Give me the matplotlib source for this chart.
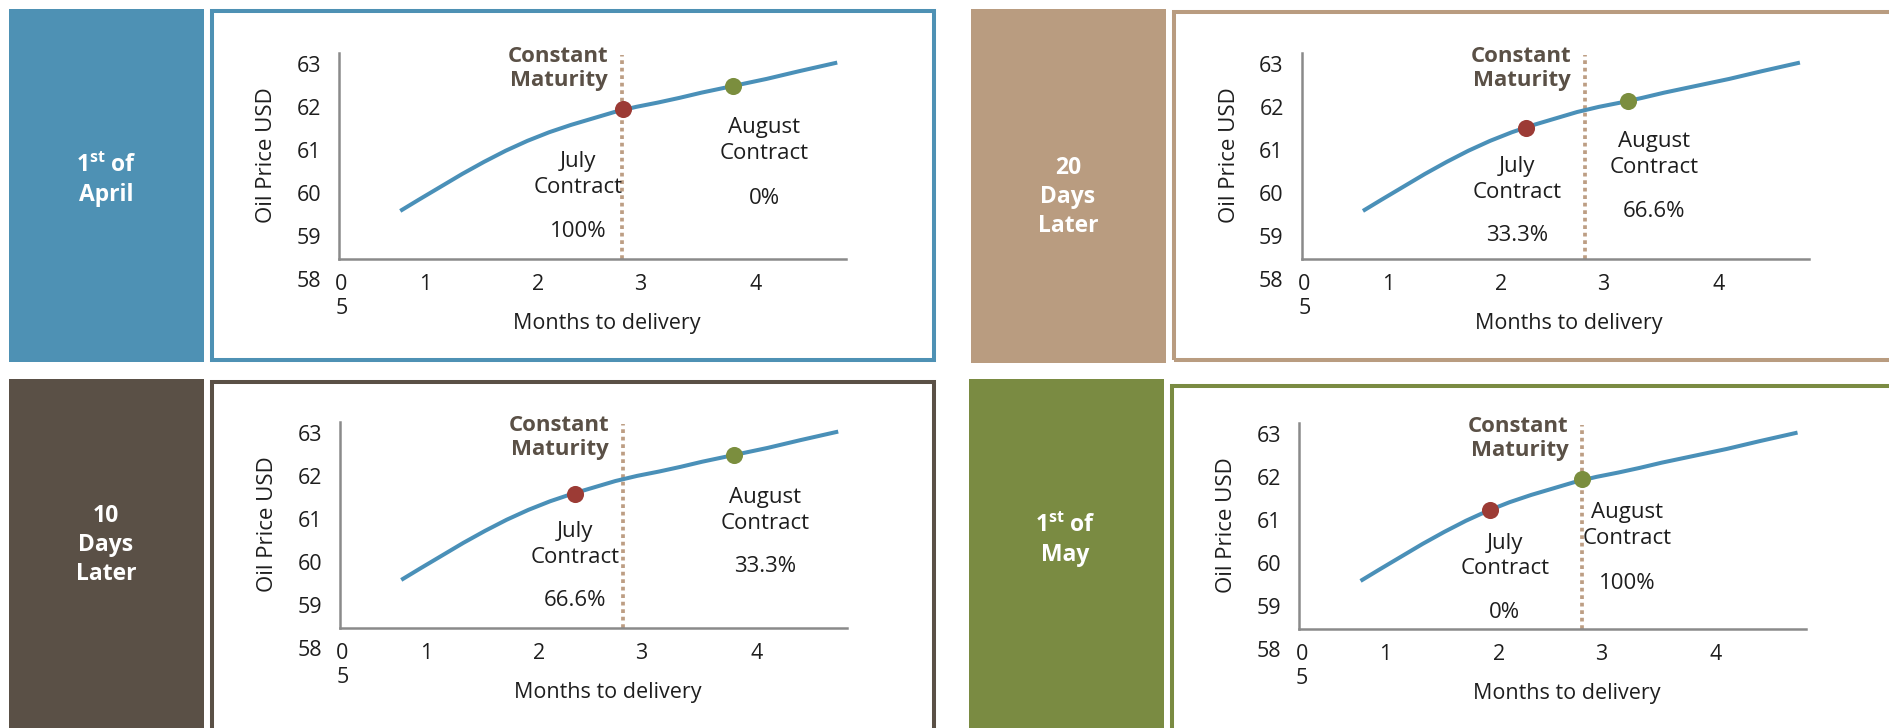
import matplotlib
matplotlib.use("Agg")
import matplotlib.pyplot as plt
from matplotlib.patches import Rectangle

plt.rcParams["font.family"] = ["Open Sans", "DejaVu Sans"]
plt.rcParams["mathtext.fontset"] = "custom"
plt.rcParams["mathtext.rm"] = "Open Sans"
plt.rcParams["mathtext.bf"] = "Open Sans:bold"

# forward curve (months to delivery -> oil price)
curve_months = [0.73, 0.9, 1.1, 1.3, 1.5, 1.7, 1.9, 2.1, 2.3, 2.5, 2.7, 2.9,
                3.1, 3.3, 3.5, 3.8, 4.1, 4.4, 4.75]
curve_price = [59.59, 59.85, 60.15, 60.45, 60.73, 60.99, 61.22, 61.42, 61.59, 61.74,
               61.89, 62.01, 62.11, 62.22, 62.34, 62.50, 62.66, 62.84, 63.04]

# panels in time order
panel_titles = ["1$^{\\mathbf{st}}$ of\nApril", "10\nDays\nLater", "20\nDays\nLater", "1$^{\\mathbf{st}}$ of\nMay"]
july_months = [2.78, 2.33, 2.23, 1.92]
july_prices = [61.95, 61.60, 61.52, 61.23]
aug_months = [3.79, 3.79, 3.17, 2.77]
aug_prices = [62.50, 62.50, 62.15, 61.96]
july_weights = ["100%", "66.6%", "33.3%", "0%"]
aug_weights = ["0%", "33.3%", "66.6%", "100%"]
maturity_month = 2.77

y_ticks = [58, 59, 60, 61, 62, 63]
x_tick_labels = ["0\n5", "1", "2", "3", "4"]
x_tick_pos = [0.19, 0.96, 2.0, 2.94, 4.0]

box_colors = ["#4e91b4", "#5a5046", "#b99c80", "#7a8b42"]
curve_color = "#4a90b8"
red = "#9c3b35"
green = "#7b8e3e"
text_dark = "#1e1e1e"
title_dark = "#5a5046"

W, H = 1890, 728
PX_MONTH = 108.7   # pixels per month
PX_USD = 43.0      # pixels per dollar
X0_PX, Y63_PX = 320.9, 64.3
XLIM = (0.167, 4.83)
YLIM = (57.5, 63.27)
X_AXIS_AT = 58.47

# pixel layout per panel: axes offset, label box, frame
offsets = [(0, 0), (1, 369), (962.7, 0), (960.3, 370)]
label_boxes = [(9, 9, 204, 362), (9, 379, 204, 745), (971, 9, 1166, 363), (969, 379, 1164, 745)]
title_centers = [(106, 180), (106, 545), (1068, 197), (1065, 540)]
frames = [(212, 11, 934, 360), (212, 382, 934, 760), (1174, 12, 1910, 360), (1172, 386, 1910, 760)]
# text placement in data units: july block x, y, pct y, aug block x, y, pct y
text_pos = [
    (2.365, 60.444, 59.107, 4.08, 61.219, 59.884),
    (2.328, 60.421, 59.123, 4.08, 61.212, 59.898),
    (2.145, 60.328, 59.007, 3.41, 60.909, 59.572),
    (2.057, 60.172, 58.860, 3.184, 60.870, 59.535),
]

FS = 15.5


def fig_rect(x0, y0, x1, y1):
    return [x0 / W, 1 - y1 / H, (x1 - x0) / W, (y1 - y0) / H]


fig = plt.figure(figsize=(W / 100, H / 100), dpi=100)

for i in range(4):
    ox, oy = offsets[i]

    # coloured label box + frame
    bx0, by0, bx1, by1 = label_boxes[i]
    r = fig_rect(bx0, by0, bx1, by1)
    fig.add_artist(Rectangle((r[0], r[1]), r[2], r[3], transform=fig.transFigure,
                             facecolor=box_colors[i], edgecolor="none"))
    fx0, fy0, fx1, fy1 = frames[i]
    r = fig_rect(fx0, fy0, fx1, fy1)
    fig.add_artist(Rectangle((r[0], r[1]), r[2], r[3], transform=fig.transFigure,
                             facecolor="none", edgecolor=box_colors[i], lw=2.9))
    cx, cy = title_centers[i]
    fig.text(cx / W, 1 - cy / H, panel_titles[i], ha="center", va="center", ma="center",
             color="white", fontsize=16.5, fontweight="bold", linespacing=1.28)

    # chart axes
    left = X0_PX + ox + XLIM[0] * PX_MONTH
    right = X0_PX + ox + XLIM[1] * PX_MONTH
    top = Y63_PX + oy - (YLIM[1] - 63) * PX_USD
    bottom = Y63_PX + oy + (63 - YLIM[0]) * PX_USD
    ax = fig.add_axes(fig_rect(left, top, right, bottom))
    ax.patch.set_alpha(0)
    ax.set_xlim(XLIM)
    ax.set_ylim(YLIM)
    ax.spines[["top", "right"]].set_visible(False)
    ax.spines["bottom"].set_position(("data", X_AXIS_AT))
    ax.spines["left"].set_bounds(X_AXIS_AT, YLIM[1])
    for s in ("left", "bottom"):
        ax.spines[s].set_color("#8a8a8a")
        ax.spines[s].set_linewidth(1.8)
    ax.set_yticks(y_ticks)
    ax.set_xticks(x_tick_pos, x_tick_labels)
    ax.tick_params(length=0, labelsize=FS, labelcolor=text_dark)
    ax.tick_params(axis="y", pad=13)
    ax.tick_params(axis="x", pad=10.5)

    ax.vlines(maturity_month, X_AXIS_AT, 63.22, colors="#bd9e84", lw=2.7,
              linestyles=(0, (1, 1)), zorder=2)
    ax.plot(curve_months, curve_price, color=curve_color, lw=2.9, zorder=3,
            solid_capstyle="butt", solid_joinstyle="round")
    ax.plot(july_months[i], july_prices[i], "o", ms=12.3, color=red, mec="none", zorder=4)
    ax.plot(aug_months[i], aug_prices[i], "o", ms=12.3, color=green, mec="none", zorder=4)

    ax.text(2.643, 62.906, "Constant\nMaturity", ha="right", va="center", fontsize=16,
            fontweight="bold", color=title_dark, linespacing=1.22)
    jx, jy, jp, axx, ay, ap = text_pos[i]
    ax.text(jx, jy, "July\nContract", ha="center", va="center", fontsize=16,
            color=text_dark, linespacing=1.3)
    ax.text(jx, jp, july_weights[i], ha="center", va="center", fontsize=16, color=text_dark)
    ax.text(axx, ay, "August\nContract", ha="center", va="center", fontsize=16,
            color=text_dark, linespacing=1.3)
    ax.text(axx, ap, aug_weights[i], ha="center", va="center", fontsize=16, color=text_dark)

    ax.text(-0.50, 60.89, "Oil Price USD", rotation=90, ha="center", va="center",
            fontsize=16, color=text_dark, clip_on=False)
    ax.text(2.627, 56.97, "Months to delivery", ha="center", va="center",
            fontsize=FS, color=text_dark, clip_on=False)

fig.savefig("out.png", dpi=100)
